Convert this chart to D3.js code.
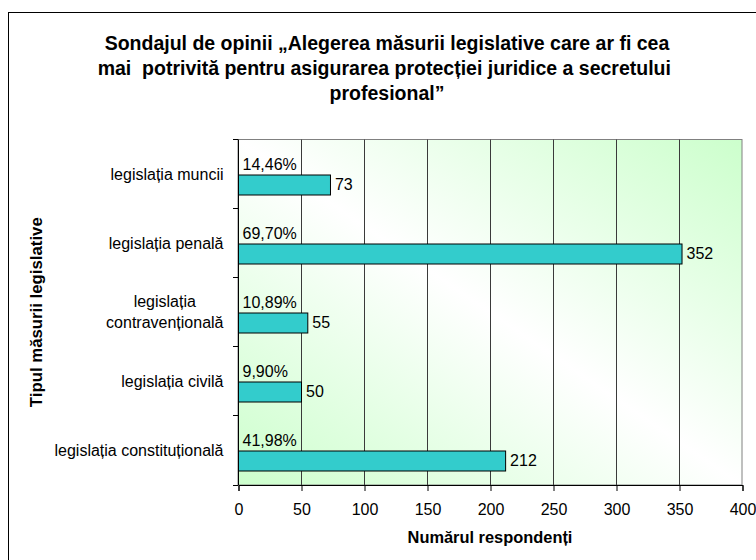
<!DOCTYPE html>
<html>
<head>
<meta charset="utf-8">
<script src="https://cdn.jsdelivr.net/npm/d3@7"></script>
<style>
    body { margin: 0; background: #fff; }
    text { font-family: "Liberation Sans", Arial, sans-serif; fill: #000; }
</style>
</head>
<body>
<div id="chart"></div>
<script>
const titleLines = [
    "Sondajul de opinii „Alegerea măsurii legislative care ar fi cea",
    "mai  potrivită pentru asigurarea protecției juridice a secretului ",
    "profesional”"
]
const categories = [
    "legislația muncii",
    "legislația penală",
    "legislația\ncontravențională",
    "legislația civilă",
    "legislația constituțională"
]
const respondents = [73, 352, 55, 50, 212]
const percents = ["14,46%", "69,70%", "10,89%", "9,90%", "41,98%"]
const xTicks = [0, 50, 100, 150, 200, 250, 300, 350, 400]
const xTitle = "Numărul respondenți"
const yTitle = "Tipul măsurii legislative"

const render = () => {
    const width = 756
    const height = 560
    const margin = { top: 139.5, left: 238, right: 14, bottom: 75 }
    const innerWidth = width - margin.left - margin.right
    const innerHeight = height - margin.top - margin.bottom
    const labelSize = 16

    const svg = d3.select("#chart")
        .append("svg")
        .attr("width", width)
        .attr("height", height)

    // outer frame, runs off the right and bottom edges
    svg.append("rect")
        .attr("x", 8.5).attr("y", 12.5)
        .attr("width", 800).attr("height", 600)
        .attr("fill", "#fff")
        .attr("stroke", "#000")

    const grad = svg.append("defs").append("linearGradient")
        .attr("id", "bg")
        .attr("x1", 1).attr("y1", 0).attr("x2", 0).attr("y2", 1)
    grad.append("stop").attr("offset", 0).attr("stop-color", "#ccffcc")
    grad.append("stop").attr("offset", 0.5).attr("stop-color", "#ffffff")
    grad.append("stop").attr("offset", 1).attr("stop-color", "#ccffcc")

    svg.append("g")
        .selectAll("text")
        .data(titleLines)
        .join("text")
        .attr("x", 387)
        .attr("y", (d, i) => 50 + i * 25)
        .attr("text-anchor", "middle")
        .style("white-space", "pre")
        .attr("font-size", 19.5)
        .attr("font-weight", "bold")
        .text(d => d)

    const xScale = d3.scaleLinear()
        .domain([0, 400])
        .range([0, innerWidth])

    const yScale = d3.scaleBand()
        .domain(categories)
        .range([0, innerHeight])

    const g = svg.append("g")
        .attr("transform", `translate(${margin.left},${margin.top})`)

    g.append("rect")
        .attr("width", innerWidth)
        .attr("height", innerHeight)
        .attr("fill", "url(#bg)")
        .attr("stroke", "#808080")

    g.append("g")
        .selectAll("line")
        .data(xTicks.slice(1, -1))
        .join("line")
        .attr("x1", d => Math.round(xScale(d)) + 0.5)
        .attr("x2", d => Math.round(xScale(d)) + 0.5)
        .attr("y1", 0)
        .attr("y2", innerHeight)
        .attr("stroke", "#3a3a3a")

    const xAxis = d3.axisBottom(xScale)
        .tickValues(xTicks)
        .tickSize(6)
        .tickPadding(13)
    const xg = g.append("g")
        .attr("transform", `translate(0.5,${innerHeight})`)
        .call(xAxis)
    xg.selectAll("text").attr("font-size", labelSize).attr("font-family", null)
    xg.selectAll("line, path").attr("stroke", "#000")

    const yBounds = categories.map(c => yScale(c)).concat([innerHeight])
    g.append("g")
        .selectAll("line")
        .data(yBounds)
        .join("line")
        .attr("x1", -5).attr("x2", 0)
        .attr("y1", d => Math.round(d))
        .attr("y2", d => Math.round(d))
        .attr("stroke", "#000")
    g.append("line")
        .attr("x1", 0.5).attr("x2", 0.5)
        .attr("y1", 0).attr("y2", innerHeight)
        .attr("stroke", "#000")

    const bw = yScale.bandwidth()
    g.append("g")
        .selectAll("rect")
        .data(respondents)
        .join("rect")
        .attr("x", 0.5)
        .attr("y", (d, i) => Math.round(yScale(categories[i]) + bw * 0.505) + 0.5)
        .attr("width", d => xScale(d))
        .attr("height", Math.round(bw * 0.285))
        .attr("fill", "#33cccc")
        .attr("stroke", "#000")

    g.append("g")
        .selectAll("text")
        .data(respondents)
        .join("text")
        .attr("x", d => xScale(d) + 5)
        .attr("y", (d, i) => yScale(categories[i]) + bw * 0.647)
        .attr("dy", "0.35em")
        .attr("font-size", labelSize)
        .text(d => d)

    g.append("g")
        .selectAll("text")
        .data(percents)
        .join("text")
        .attr("x", 4.5)
        .attr("y", (d, i) => yScale(categories[i]) + 30)
        .attr("font-size", labelSize)
        .text(d => d)

    // category labels, wrapped ones are centred on their longest line
    const labels = g.append("g")
        .selectAll("text")
        .data(categories)
        .join("text")
        .attr("font-size", labelSize)
        .attr("text-anchor", "middle")
    labels.each(function(d) {
        const lines = d.split("\n")
        const t = d3.select(this)
        t.selectAll("tspan")
            .data(lines)
            .join("tspan")
            .attr("x", 0)
            .attr("y", (l, i) => yScale(d) + bw / 2 + (i - (lines.length - 1) / 2) * 21)
            .attr("dy", "0.35em")
            .text(l => l)
        const w = d3.max(t.selectAll("tspan").nodes(), n => n.getComputedTextLength())
        t.selectAll("tspan").attr("x", -14.5 - w / 2)
    })

    g.append("text")
        .attr("x", innerWidth / 2)
        .attr("y", innerHeight + 58)
        .attr("text-anchor", "middle")
        .attr("font-size", 16.4)
        .attr("font-weight", "bold")
        .text(xTitle)

    svg.append("text")
        .attr("transform", `translate(42,${margin.top + innerHeight / 2}) rotate(-90)`)
        .attr("text-anchor", "middle")
        .attr("font-size", 16.8)
        .attr("font-weight", "bold")
        .text(yTitle)
}

render()
</script>
</body>
</html>
